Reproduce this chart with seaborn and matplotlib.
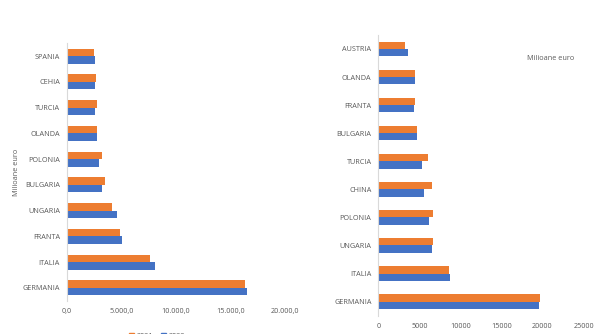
import matplotlib
matplotlib.use("Agg")
import matplotlib.pyplot as plt
import seaborn as sns
import pandas as pd
from matplotlib.ticker import FuncFormatter

sns.set_theme(style="white")
plt.rcParams["font.family"] = ["Open Sans", "DejaVu Sans"]

# Left panel: countries and values (milioane euro)
left_countries = ["SPANIA", "CEHIA", "TURCIA", "OLANDA", "POLONIA", "BULGARIA",
                  "UNGARIA", "FRANTA", "ITALIA", "GERMANIA"]
left_2021 = [2480, 2660, 2720, 2750, 3180, 3460, 4160, 4890, 7590, 16330]
left_2022 = [2570, 2570, 2600, 2750, 2940, 3240, 4590, 5010, 8100, 16540]

# Right panel: countries and values (milioane euro)
right_countries = ["AUSTRIA", "OLANDA", "FRANTA", "BULGARIA", "TURCIA", "CHINA",
                   "POLONIA", "UNGARIA", "ITALIA", "GERMANIA"]
right_2021 = [3270, 4410, 4410, 4660, 6000, 6490, 6680, 6650, 8630, 19700]
right_2022 = [3600, 4410, 4330, 4730, 5270, 5590, 6200, 6520, 8760, 19610]

years = ["2021", "2022"]
left_ticks = [0, 5000, 10000, 15000, 20000]
right_ticks = [0, 5000, 10000, 15000, 20000, 25000]

ORANGE = "#ED7D31"
BLUE = "#4472C4"
TEXT = "#595959"


def long_frame(countries, a, b):
    return pd.DataFrame({
        "tara": countries * 2,
        "valoare": a + b,
        "an": [years[0]] * len(countries) + [years[1]] * len(countries),
    })


fig = plt.figure(figsize=(6.0, 3.34), dpi=100)
ax1 = fig.add_axes([0.1117, 0.0997, 0.3633, 0.7707])
ax2 = fig.add_axes([0.6308, 0.0548, 0.3417, 0.8407])

palette = {years[0]: ORANGE, years[1]: BLUE}

sns.barplot(data=long_frame(left_countries, left_2021, left_2022),
            y="tara", x="valoare", hue="an", hue_order=years, palette=palette,
            width=0.58, gap=0, saturation=1, linewidth=0, ax=ax1, legend=False)
sns.barplot(data=long_frame(right_countries, right_2021, right_2022),
            y="tara", x="valoare", hue="an", hue_order=years, palette=palette,
            width=0.52, gap=0, saturation=1, linewidth=0, ax=ax2, legend=False)


def euro_fmt(v, _):
    s = f"{v:,.1f}"
    return s.replace(",", "X").replace(".", ",").replace("X", ".")


ax1.set_xlim(0, 20000)
ax1.set_xticks(left_ticks)
ax1.xaxis.set_major_formatter(FuncFormatter(euro_fmt))
ax2.set_xlim(0, 25000)
ax2.set_xticks(right_ticks)

for ax in (ax1, ax2):
    for side in ("top", "right", "bottom"):
        ax.spines[side].set_visible(False)
    ax.spines["left"].set_color("#D9D9D9")
    ax.spines["left"].set_linewidth(0.8)
    ax.tick_params(axis="y", length=0, labelsize=5.2, labelcolor=TEXT, pad=5)
    ax.tick_params(axis="x", length=0, labelsize=5.2, labelcolor=TEXT, pad=5)
    ax.set_xlabel("")
    ax.set_ylabel("")
    ax.grid(False)

ax1.set_ylabel("Milioane euro", fontsize=5.2, color=TEXT)
ax1.yaxis.set_label_coords(-0.215, 0.5)
fig.text(0.917, 0.826, "Milioane euro", fontsize=5.2, color=TEXT,
         ha="center", va="center")

# Legend sitting at the lower edge of the figure
handles = [plt.Rectangle((0, 0), 1, 1, color=ORANGE),
           plt.Rectangle((0, 0), 1, 1, color=BLUE)]
fig.legend(handles, years, loc="center", bbox_to_anchor=(0.262, -0.008),
           ncol=2, frameon=False, fontsize=5.2, labelcolor=TEXT,
           handlelength=0.7, handleheight=0.7, columnspacing=1.0,
           handletextpad=0.4)

fig.savefig("out.png", dpi=100, facecolor="white")
